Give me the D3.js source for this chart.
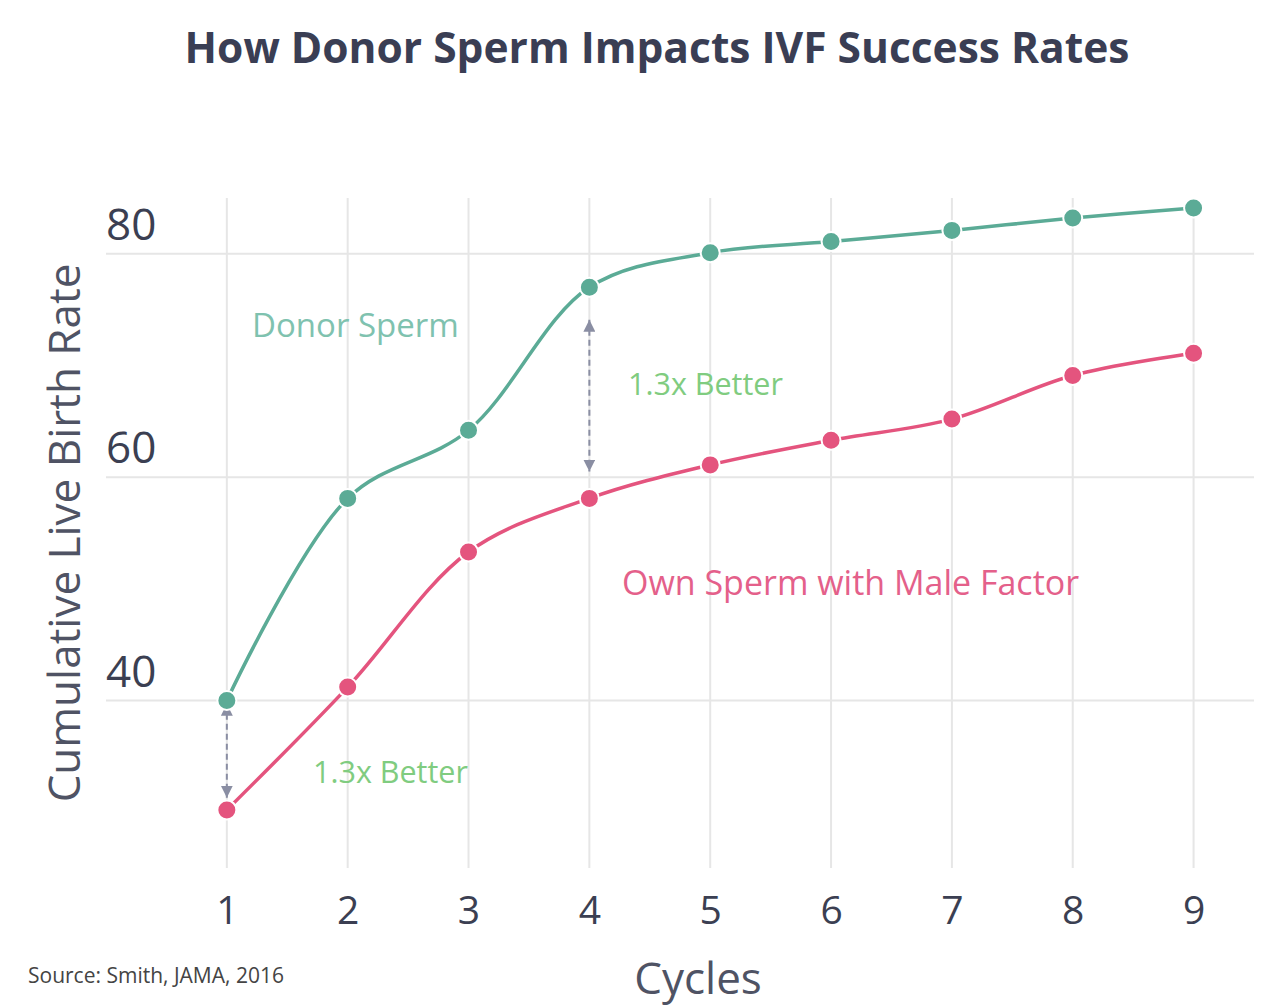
<!DOCTYPE html>
<html>
<head>
<meta charset="utf-8">
<script src="https://cdn.jsdelivr.net/npm/d3@7"></script>
<style>
  body { margin: 0; background: #fff; }
  svg { display: block; }
</style>
</head>
<body>
<svg id="chart" width="1262" height="1008"></svg>
<script>
const cycles = [1, 2, 3, 4, 5, 6, 7, 8, 9];
const donorSperm = [40.0, 58.1, 64.2, 77.0, 80.1, 81.1, 82.1, 83.2, 84.1];
const ownSperm = [30.2, 41.2, 53.3, 58.1, 61.1, 63.3, 65.2, 69.1, 71.1];
const yTicks = [40, 60, 80];
const xTicks = [1, 2, 3, 4, 5, 6, 7, 8, 9];
const arrowCycles = [1, 4];
const arrowTop = [39.7, 74.1];
const arrowBottom = [31.3, 60.5];

const svg = d3.select("#chart");
const x = d3.scaleLinear().domain([0, 9.5]).range([106, 1254]);
const y = d3.scaleLinear().domain([25, 85]).range([868, 198]);

const gridColor = "#e6e6e6";
const textColor = "#3b3f52";
const donorColor = "#5bab96";
const ownColor = "#e4547e";

// Title
svg.append("text")
  .attr("x", 657).attr("y", 63)
  .attr("text-anchor", "middle")
  .attr("font-family", "Open Sans")
  .attr("font-weight", 700)
  .attr("font-size", 42.5)
  .attr("fill", "#3a3e54")
  .text("How Donor Sperm Impacts IVF Success Rates");

// Grid
const grid = svg.append("g");
grid.selectAll("line.v").data(xTicks).enter().append("line")
  .attr("x1", d => x(d)).attr("x2", d => x(d))
  .attr("y1", y(85)).attr("y2", y(25))
  .attr("stroke", gridColor).attr("stroke-width", 2);
grid.selectAll("line.h").data(yTicks).enter().append("line")
  .attr("x1", x(0)).attr("x2", x(9.5))
  .attr("y1", d => y(d)).attr("y2", d => y(d))
  .attr("stroke", gridColor).attr("stroke-width", 2);

// Y tick labels (above gridlines)
svg.append("g").selectAll("text").data(yTicks).enter().append("text")
  .attr("x", x(0)).attr("y", d => y(d) - 14)
  .attr("font-family", "Open Sans")
  .attr("font-size", 44)
  .attr("fill", textColor)
  .text(d => d);

// X axis
const xAxis = d3.axisBottom(x).tickValues(xTicks).tickSize(0).tickPadding(0).tickFormat(d3.format("d"));
const gx = svg.append("g").attr("transform", `translate(0, 924)`).call(xAxis);
gx.select(".domain").remove();
gx.selectAll("text")
  .attr("dy", 0)
  .attr("font-family", "Open Sans")
  .attr("font-size", 39)
  .attr("fill", textColor);

// Axis titles
svg.append("text")
  .attr("transform", `translate(80, 533) rotate(-90)`)
  .attr("text-anchor", "middle")
  .attr("font-family", "Open Sans")
  .attr("font-size", 44)
  .attr("fill", "#4f5364")
  .text("Cumulative Live Birth Rate");
svg.append("text")
  .attr("x", 698).attr("y", 994)
  .attr("text-anchor", "middle")
  .attr("font-family", "Open Sans")
  .attr("font-size", 44)
  .attr("fill", "#4f5364")
  .text("Cycles");

// Source
svg.append("text")
  .attr("x", 28).attr("y", 983)
  .attr("font-family", "Open Sans")
  .attr("font-size", 21)
  .attr("fill", "#444")
  .text("Source: Smith, JAMA, 2016");

// Arrows
const defs = svg.append("defs");
defs.append("marker").attr("id", "ah")
  .attr("viewBox", "0 0 10 10").attr("refX", 10).attr("refY", 5)
  .attr("markerWidth", 12).attr("markerHeight", 12)
  .attr("markerUnits", "userSpaceOnUse")
  .attr("orient", "auto-start-reverse")
  .append("path").attr("d", "M0,0 L10,5 L0,10 Z").attr("fill", "#8a8ea3");
arrowCycles.forEach((c, i) => {
  svg.append("line")
    .attr("x1", x(c)).attr("x2", x(c))
    .attr("y1", y(arrowTop[i])).attr("y2", y(arrowBottom[i]))
    .attr("stroke", "#8a8ea3").attr("stroke-width", 2)
    .attr("stroke-dasharray", "6,4")
    .attr("marker-start", "url(#ah)").attr("marker-end", "url(#ah)");
});

// Lines
const series = [
  { values: donorSperm, color: donorColor },
  { values: ownSperm, color: ownColor }
];
const line = d3.line()
  .x((d, i) => x(cycles[i]))
  .y(d => y(d))
  .curve(d3.curveCatmullRom.alpha(0.5));
series.forEach(s => {
  svg.append("path").datum(s.values)
    .attr("d", line)
    .attr("fill", "none")
    .attr("stroke", s.color)
    .attr("stroke-width", 3.5);
  svg.append("g").selectAll("circle").data(s.values).enter().append("circle")
    .attr("cx", (d, i) => x(cycles[i]))
    .attr("cy", d => y(d))
    .attr("r", 9.5)
    .attr("fill", s.color)
    .attr("stroke", "#fff")
    .attr("stroke-width", 2);
});

// Annotations
const annoFont = "Open Sans";
svg.append("text").attr("x", 252).attr("y", 337)
  .attr("font-family", annoFont).attr("font-size", 33)
  .attr("fill", "#7fc2af").text("Donor Sperm");
svg.append("text").attr("x", 628).attr("y", 395)
  .attr("font-family", annoFont).attr("font-size", 30.5)
  .attr("fill", "#80cc80").text("1.3x Better");
svg.append("text").attr("x", 313).attr("y", 783)
  .attr("font-family", annoFont).attr("font-size", 30.5)
  .attr("fill", "#80cc80").text("1.3x Better");
svg.append("text").attr("x", 622).attr("y", 595)
  .attr("font-family", annoFont).attr("font-size", 34)
  .attr("fill", "#e4608a").text("Own Sperm with Male Factor");
</script>
</body>
</html>
